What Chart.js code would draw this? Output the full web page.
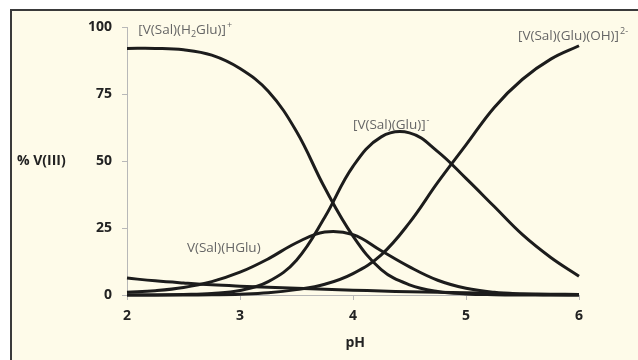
<!DOCTYPE html>
<html>
<head>
<meta charset="utf-8">
<script src="https://cdn.jsdelivr.net/npm/chart.js@4.4.1/dist/chart.umd.min.js"></script>
<style>
    html, body { margin: 0; padding: 0; background: #ffffff; }
    #frame {
        position: absolute; left: 10px; top: 9px; width: 640px; height: 360px;
        border-left: 2px solid #3a3a3a; border-top: 2px solid #3a3a3a;
        background: #fefbe9;
    }
    #wrap { position: absolute; left: 0; top: 0; width: 638px; height: 360px; }
</style>
</head>
<body>
<div id="frame"></div>
<div id="wrap"><canvas id="chart" width="638" height="360"></canvas></div>
<script>
// pH values (x axis)
const pH = [2, 2.25, 2.5, 2.75, 3, 3.25, 3.5, 3.75, 4, 4.25, 4.5, 4.75, 5, 5.25, 5.5, 5.75, 6];

// % V(III) for each species
const h2Glu = [92, 92, 91.5, 89.5, 84.5, 76, 61, 40, 22, 9.5, 3.8, 1.3, 0.4, 0.1, 0, 0, 0];
const hGlu = [1.0, 1.6, 2.8, 5.0, 8.5, 13.5, 19.5, 23.5, 22.5, 16.5, 10.5, 5.5, 2.5, 1, 0.4, 0.1, 0];
const glu = [0, 0, 0.2, 0.6, 1.7, 5, 13, 29, 48, 59, 60.5, 53.5, 43.5, 33, 22.5, 14, 7];
const gluOH = [0, 0, 0, 0.1, 0.3, 0.8, 2, 4, 8, 15, 27, 42, 56, 70, 80.5, 88, 93];
const freeV = [6.3, 5.3, 4.5, 3.8, 3.3, 2.9, 2.5, 2.1, 1.8, 1.5, 1.2, 1.0, 0.8, 0.6, 0.4, 0.3, 0.2];

const xTicks = [2, 3, 4, 5, 6];
const yTicks = [0, 25, 50, 75, 100];

// species labels: [pH, %, parts]
const speciesLabels = [
    [2.1, 98.8, [["[V(Sal)(H", "n"], ["2", "sub"], ["Glu)]", "n"], ["+", "sup"]]],
    [4.0, 63.2, [["[V(Sal)(Glu)]", "n"], ["-", "sup"]]],
    [5.46, 96.6, [["[V(Sal)(Glu)(OH)]", "n"], ["2-", "sup"]]],
    [2.53, 17.5, [["V(Sal)(HGlu)", "n"]]],
];

function series(values) {
    return {
        data: pH.map((x, i) => ({ x: x, y: values[i] })),
        borderColor: "#1c1c1c",
        borderWidth: 3,
        pointRadius: 0,
        fill: false,
        tension: 0.4,
        clip: 5,
    };
}

const labelPlugin = {
    id: "labels",
    afterDatasetsDraw(chart) {
        const ctx = chart.ctx;
        const xs = chart.scales.x;
        const ys = chart.scales.y;
        ctx.save();
        ctx.fillStyle = "#666666";
        ctx.textBaseline = "middle";
        ctx.textAlign = "left";
        speciesLabels.forEach(([px, py, parts]) => {
            let x = xs.getPixelForValue(px);
            const y = ys.getPixelForValue(py);
            parts.forEach(([txt, mode]) => {
                if (mode === "n") {
                    ctx.font = "13.5px 'Open Sans'";
                    ctx.fillText(txt, x, y);
                } else if (mode === "sub") {
                    ctx.font = "9px 'Open Sans'";
                    ctx.fillText(txt, x, y + 4);
                } else {
                    ctx.font = "9px 'Open Sans'";
                    ctx.fillText(txt, x + 1, y - 5);
                    x += 1;
                }
                x += ctx.measureText(txt).width;
            });
        });

        // axis titles
        ctx.fillStyle = "#222222";
        ctx.font = "bold 14px 'Open Sans'";
        ctx.textAlign = "left";
        ctx.fillText("% V(III)", 17, ys.getPixelForValue(50));
        ctx.textAlign = "center";
        ctx.fillText("pH", xs.getPixelForValue(4.02), 343);
        ctx.restore();
    },
};

const ctx = document.getElementById("chart").getContext("2d");
new Chart(ctx, {
    type: "line",
    data: {
        datasets: [series(h2Glu), series(hGlu), series(glu), series(gluOH), series(freeV)],
    },
    options: {
        responsive: false,
        animation: false,
        layout: { padding: { top: 27, right: 59, bottom: 0, left: 0 } },
        plugins: {
            legend: { display: false },
            tooltip: { enabled: false },
        },
        scales: {
            x: {
                type: "linear",
                min: 2,
                max: 6,
                afterBuildTicks: (s) => { s.ticks = xTicks.map((v) => ({ value: v })); },
                afterFit: (s) => { s.height = 65; },
                grid: { drawOnChartArea: false, drawTicks: true, tickLength: 5, color: "#b8b8b8" },
                border: { display: true, color: "#b8b8b8", width: 1 },
                ticks: {
                    color: "#222222",
                    font: { family: "'Open Sans'", size: 14, weight: "bold" },
                    padding: 8,
                },
            },
            y: {
                min: 0,
                max: 100,
                afterBuildTicks: (s) => { s.ticks = yTicks.map((v) => ({ value: v })); },
                afterFit: (s) => { s.width = 127; },
                grid: { drawOnChartArea: false, drawTicks: true, tickLength: 5, color: "#b8b8b8" },
                border: { display: true, color: "#b8b8b8", width: 1 },
                ticks: {
                    color: "#222222",
                    font: { family: "'Open Sans'", size: 14, weight: "bold" },
                    padding: 10,
                },
            },
        },
    },
    plugins: [labelPlugin],
});
</script>
</body>
</html>
